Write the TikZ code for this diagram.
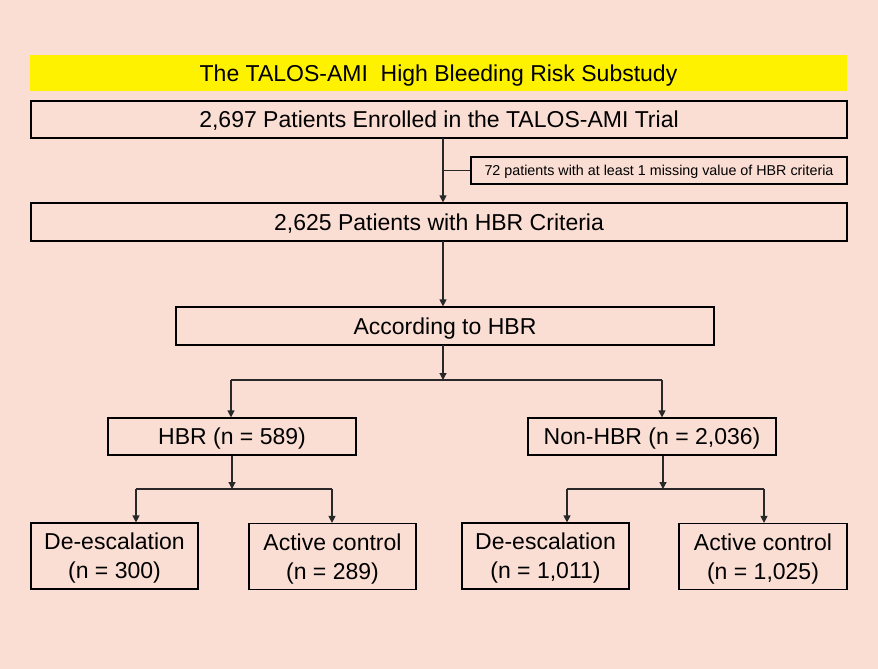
\documentclass[tikz,border=0pt]{standalone}
\usepackage{fontspec}
\setmainfont{Liberation Sans}
\usetikzlibrary{arrows.meta}
\definecolor{bgpink}{RGB}{250,221,211}
\definecolor{lineg}{RGB}{40,40,40}
\tikzset{
  box/.style={draw=black, line width=1.2pt, fill=bgpink, inner sep=0pt, text depth=0pt, font=\fontsize{23}{29}\selectfont, align=center},
  smallbox/.style={box, font=\fontsize{14.3}{17}\selectfont},
  conn/.style={draw=lineg, line width=1.2pt},
  arr/.style={conn, -{Triangle[length=7pt,width=7pt]}},
}
\begin{document}
\begin{tikzpicture}[x=1pt,y=-1pt]
\fill[bgpink] (0,0) rectangle (878,669);
\useasboundingbox (0,0) rectangle (878,669);
\node[fill=yellow, inner sep=0pt, text depth=0pt, minimum width=817pt, minimum height=36pt, font=\fontsize{23}{28}\selectfont] (title) at (438.5,73) {The TALOS-AMI\ \ High Bleeding Risk Substudy};
\node[box, minimum width=816pt, minimum height=37pt] (enr) at (439,119.5) {2,697 Patients Enrolled in the TALOS-AMI Trial};
\node[smallbox, minimum width=376pt, minimum height=27pt] (excl) at (659,170.5) {72 patients with at least 1 missing value of HBR criteria};
\node[box, minimum width=816pt, minimum height=38pt] (crit) at (439,222) {2,625 Patients with HBR Criteria};
\node[box, minimum width=538pt, minimum height=38pt] (acc) at (445,326) {According to HBR};
\node[box, minimum width=248pt, minimum height=37pt] (hbr) at (232,436.5) {HBR (n = 589)};
\node[box, minimum width=248pt, minimum height=37pt] (non) at (652,436.5) {Non-HBR (n = 2,036)};
\node[box, minimum width=167pt, minimum height=66pt] (de1) at (114.5,556) {De-escalation\\(n = 300)};
\node[box, minimum width=167pt, minimum height=66pt] (ac1) at (332.5,556.5) {Active control\\(n = 289)};
\node[box, minimum width=167pt, minimum height=66pt] (de2) at (545.5,556) {De-escalation\\(n = 1,011)};
\node[box, minimum width=168pt, minimum height=66pt] (ac2) at (763,556.5) {Active control\\(n = 1,025)};
% trunk
\coordinate (t1) at (443,138);
\coordinate (t2) at (443,241);
\coordinate (t3) at (443,345);
\draw[arr] (t1) -- (t1 |- crit.north);
\draw[conn] (t1 |- excl.west) -- (excl.west);
\draw[arr] (t2) -- (t2 |- acc.north);
\coordinate (j1) at (443,380);
\draw[arr] (t3) -- (j1);
\coordinate (j1l) at (231,380);
\coordinate (j1r) at (662,380);
\draw[conn] (j1l) -- (j1r);
\draw[arr] (j1l) -- (j1l |- hbr.north);
\draw[arr] (j1r) -- (j1r |- non.north);
% HBR split
\coordinate (j2) at (232,489);
\coordinate (j2l) at (136,489);
\coordinate (j2r) at (332,489);
\draw[arr] (j2 |- hbr.south) -- (j2);
\draw[conn] (j2l) -- (j2r);
\draw[arr] (j2l) -- (j2l |- de1.north);
\draw[arr] (j2r) -- (j2r |- ac1.north);
% Non-HBR split
\coordinate (j3) at (663,489);
\coordinate (j3l) at (567,489);
\coordinate (j3r) at (764,489);
\draw[arr] (j3 |- non.south) -- (j3);
\draw[conn] (j3l) -- (j3r);
\draw[arr] (j3l) -- (j3l |- de2.north);
\draw[arr] (j3r) -- (j3r |- ac2.north);
\end{tikzpicture}
\end{document}
